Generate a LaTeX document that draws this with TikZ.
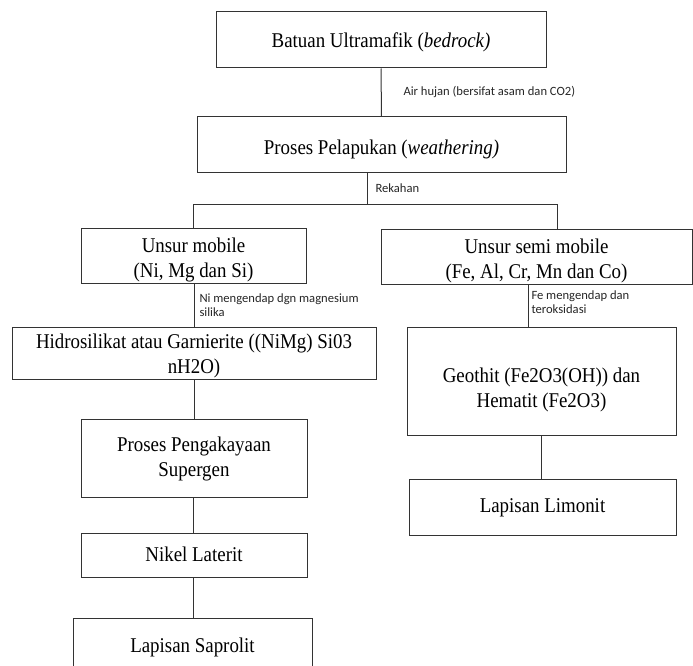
\documentclass[tikz,border=0pt]{standalone}
\usepackage{fontspec}
\setmainfont{Liberation Serif}[FakeStretch=0.9]
\newfontfamily\notefont{Carlito}
\newcommand{\boxtext}[2][0pt]{\raisebox{-#1}[\height][\depth]{\begin{tabular}{@{}c@{}}#2\end{tabular}}}
\usetikzlibrary{calc}

\begin{document}
\begin{tikzpicture}[x=1pt,y=-1pt,line width=1pt,draw=black!80,
  box/.style={draw,inner sep=0pt,font=\fontsize{21}{25}\selectfont},
  note/.style={anchor=west,align=left,inner sep=0pt,text=black!85,font=\notefont\fontsize{12.6}{14}\selectfont}]
  \clip (0,0) rectangle (693,666);
  \node [box, minimum width=330pt, minimum height=56pt] (batuan) at (381,40) {\boxtext[3pt]{Batuan Ultramafik (\textit{bedrock)}}};
  \node [box, minimum width=369pt, minimum height=55pt] (pelapukan) at (381.5,144.5) {\boxtext[5pt]{Proses Pelapukan (\textit{weathering)}}};
  \node [box, minimum width=225pt, minimum height=55pt] (mobile) at (193.5,255.5) {\boxtext[4pt]{Unsur mobile\\(Ni, Mg dan Si)}};
  \node [box, minimum width=311pt, minimum height=55pt] (semi) at (536.5,256.5) {\boxtext[4pt]{Unsur semi mobile\\(Fe, Al, Cr, Mn dan Co)}};
  \node [box, minimum width=364pt, minimum height=52pt] (hidro) at (194,353) {\boxtext[3pt]{Hidrosilikat atau Garnierite ((NiMg) Si03\\nH2O)}};
  \node [box, minimum width=269pt, minimum height=108pt] (geothit) at (541.5,381) {\boxtext[9pt]{Geothit (Fe2O3(OH)) dan\\Hematit (Fe2O3)}};
  \node [box, minimum width=226pt, minimum height=78pt] (supergen) at (194,458) {\boxtext[1pt]{Proses Pengakayaan\\Supergen}};
  \node [box, minimum width=267pt, minimum height=56pt] (limonit) at (542.5,507) {\boxtext{Lapisan Limonit}};
  \node [box, minimum width=226pt, minimum height=44pt] (nikel) at (194,555) {\boxtext[1pt]{Nikel Laterit}};
  \node [box, minimum width=239pt, minimum height=56pt] (saprolit) at (192.5,646) {\boxtext[1pt]{Lapisan Saprolit}};

  \coordinate (split) at (367,204);
  \coordinate (barL) at (193,204);
  \coordinate (barR) at (557,204);
  \coordinate (fe) at (528,0);
  \draw (batuan.south) -- (pelapukan.north);
  \draw (pelapukan.south -| split) -- (split);
  \draw (mobile.north -| barL) -- (barL) -- (barR) -- (barR |- semi.north);
  \draw (mobile.south -| hidro.north) -- (hidro.north);
  \draw (semi.south -| fe) -- (geothit.north -| fe);
  \draw (hidro.south) -- (supergen.north);
  \draw (geothit.south) -- (limonit.north -| geothit.south);
  \draw (supergen.south -| barL) -- (nikel.north -| barL);
  \draw (nikel.south -| barL) -- (saprolit.north -| barL);

  \node [note] (hujan) at (403,92) {Air hujan (bersifat asam dan CO2)};
  \node [note] (rekahan) at (375,188) {Rekahan};
  \node [note] (ni) at (199,305) {Ni mengendap dgn magnesium\\silika};
  \node [note] (fe2) at (531,302.5) {Fe mengendap dan\\teroksidasi};
\end{tikzpicture}
\end{document}
